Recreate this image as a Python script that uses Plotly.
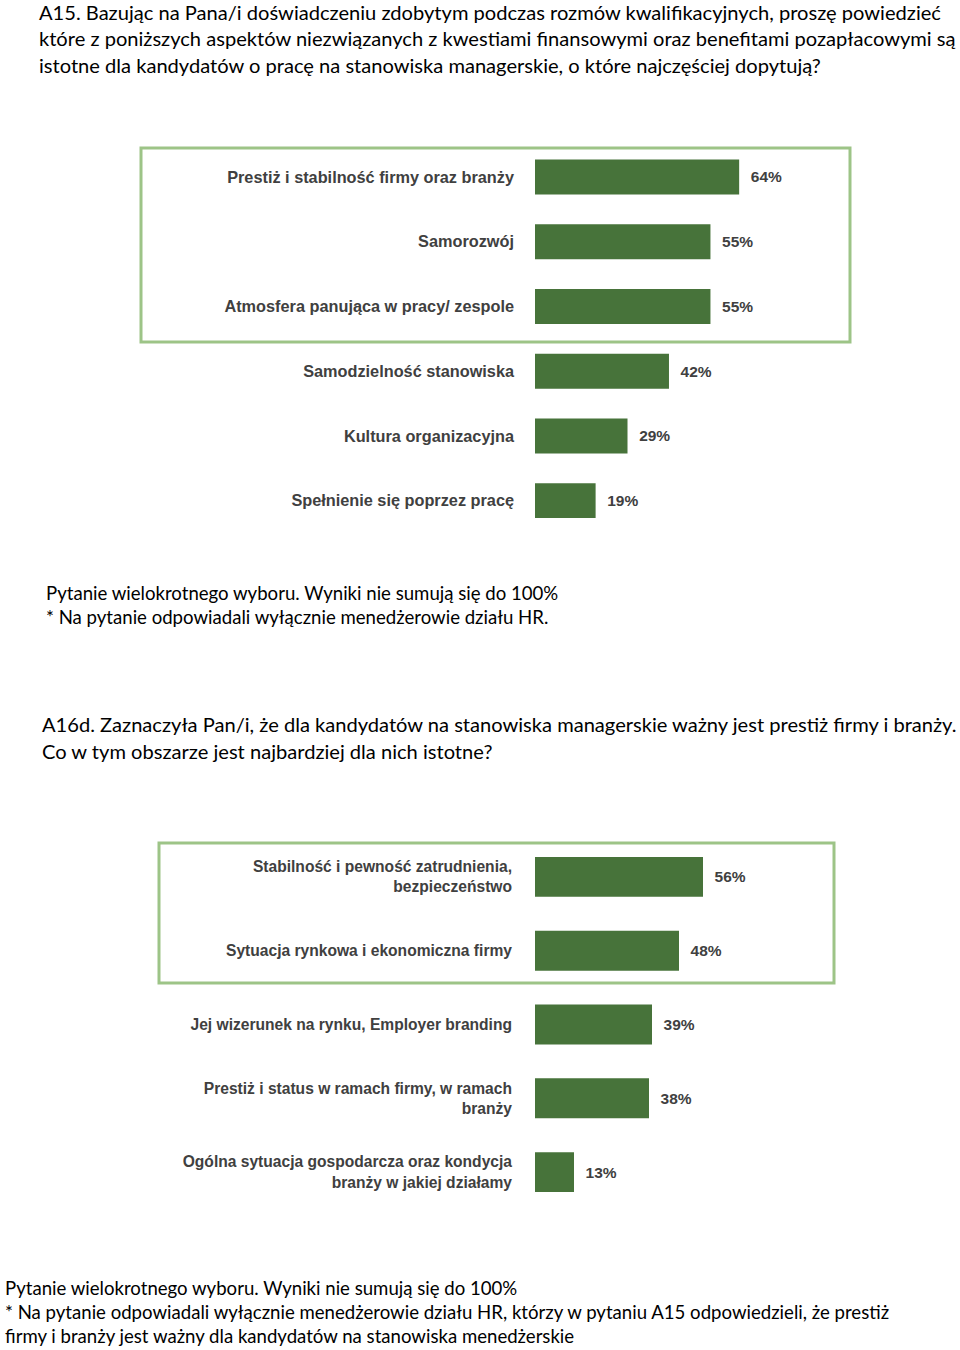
import plotly.graph_objects as go

W, H = 960, 1350

# ---------------- data ----------------
q1_labels = [
    "Prestiż i stabilność firmy oraz branży",
    "Samorozwój",
    "Atmosfera panująca w pracy/ zespole",
    "Samodzielność stanowiska",
    "Kultura organizacyjna",
    "Spełnienie się poprzez pracę",
]
q1_values = [64, 55, 55, 42, 29, 19]

q2_labels = [
    "Stabilność i pewność zatrudnienia,<br>bezpieczeństwo",
    "Sytuacja rynkowa i ekonomiczna firmy",
    "Jej wizerunek na rynku, Employer branding",
    "Prestiż i status w ramach firmy, w ramach<br>branży",
    "Ogólna sytuacja gospodarcza oraz kondycja<br>branży w jakiej działamy",
]
q2_values = [56, 48, 39, 38, 13]

title1_lines = [
    "A15. Bazując na Pana/i doświadczeniu zdobytym podczas rozmów kwalifikacyjnych, proszę powiedzieć",
    "które z poniższych aspektów niezwiązanych z kwestiami finansowymi oraz benefitami pozapłacowymi są",
    "istotne dla kandydatów o pracę na stanowiska managerskie, o które najczęściej dopytują?",
]
note1_lines = [
    "Pytanie wielokrotnego wyboru. Wyniki nie sumują się do 100%",
    "* Na pytanie odpowiadali wyłącznie menedżerowie działu HR.",
]
title2_lines = [
    "A16d. Zaznaczyła Pan/i, że dla kandydatów na stanowiska managerskie ważny jest prestiż firmy i branży.",
    "Co w tym obszarze jest najbardziej dla nich istotne?",
]
note2_lines = [
    "Pytanie wielokrotnego wyboru. Wyniki nie sumują się do 100%",
    "* Na pytanie odpowiadali wyłącznie menedżerowie działu HR, którzy w pytaniu A15 odpowiedzieli, że prestiż",
    "firmy i branży jest ważny dla kandydatów na stanowiska menedżerskie",
]

# ---------------- styling ----------------
BAR = "#47733A"
BOX = "#9DC487"
LABEL = "#404040"
LFONT = "Liberation Sans, Arial, sans-serif"
TFONT = "Lato, Open Sans, sans-serif"


def px(x):
    return x / W


def py(y):
    return 1 - y / H


fig = go.Figure()

fig.add_trace(go.Bar(
    x=q1_values, y=q1_labels, orientation="h",
    marker=dict(color=BAR, line=dict(width=0)),
    texttemplate="\u00a0\u00a0%{x}%", textposition="outside", constraintext="none",
    textfont=dict(family=LFONT, size=15.5, color=LABEL, weight="bold"),
    cliponaxis=False, xaxis="x", yaxis="y", hoverinfo="skip",
))
fig.add_trace(go.Bar(
    x=q2_values, y=q2_labels, orientation="h",
    marker=dict(color=BAR, line=dict(width=0)),
    texttemplate="\u00a0\u00a0%{x}%", textposition="outside", constraintext="none",
    textfont=dict(family=LFONT, size=15.5, color=LABEL, weight="bold"),
    cliponaxis=False, xaxis="x2", yaxis="y2", hoverinfo="skip",
))

xcommon = dict(range=[0, 100], showgrid=False, zeroline=False, showline=False,
               showticklabels=False, ticks="", fixedrange=True)
ycommon = dict(type="category", showgrid=False, zeroline=False, showline=False,
               ticks="", fixedrange=True)

annotations = []


def add_lines(lines, x, y0, step, size):
    for i, t in enumerate(lines):
        annotations.append(dict(
            text=t, x=px(x), y=py(y0 + i * step), xref="paper", yref="paper",
            xanchor="left", yanchor="middle", showarrow=False,
            font=dict(family=TFONT, size=size, color="#000000"),
        ))


add_lines(title1_lines, 37, 12, 26.5, 20.1)
add_lines(note1_lines, 44, 593, 24, 18.6)
add_lines(title2_lines, 40, 724, 26.5, 20.1)
add_lines(note2_lines, 3, 1288, 24, 18.6)

shapes = [
    dict(type="rect", xref="paper", yref="paper", x0=px(141), x1=px(850), y0=py(148), y1=py(342),
         line=dict(color=BOX, width=3), fillcolor="rgba(0,0,0,0)", layer="below"),
    dict(type="rect", xref="paper", yref="paper", x0=px(159), x1=px(834), y0=py(843), y1=py(983),
         line=dict(color=BOX, width=3), fillcolor="rgba(0,0,0,0)", layer="below"),
]

fig.update_layout(
    width=W, height=H, margin=dict(l=0, r=0, t=0, b=0),
    paper_bgcolor="white", plot_bgcolor="rgba(0,0,0,0)",
    showlegend=False, bargap=0.46,
    xaxis=dict(domain=[px(535), px(854)], anchor="y", **xcommon),
    yaxis=dict(domain=[py(533), py(144.6)], anchor="x", range=[5.5, -0.5],
               categoryorder="array", categoryarray=q1_labels, ticklabelstandoff=20,
               tickfont=dict(family=LFONT, size=16.3, color=LABEL, weight="bold"), **ycommon),
    xaxis2=dict(domain=[px(535), px(835)], anchor="y2", **xcommon),
    yaxis2=dict(domain=[py(1209), py(840)], anchor="x2", range=[4.5, -0.5],
                categoryorder="array", categoryarray=q2_labels, ticklabelstandoff=22,
                tickfont=dict(family=LFONT, size=15.6, color=LABEL, weight="bold"), **ycommon),
    annotations=annotations, shapes=shapes,
)

fig.write_html("out.html", config={"displayModeBar": False})
